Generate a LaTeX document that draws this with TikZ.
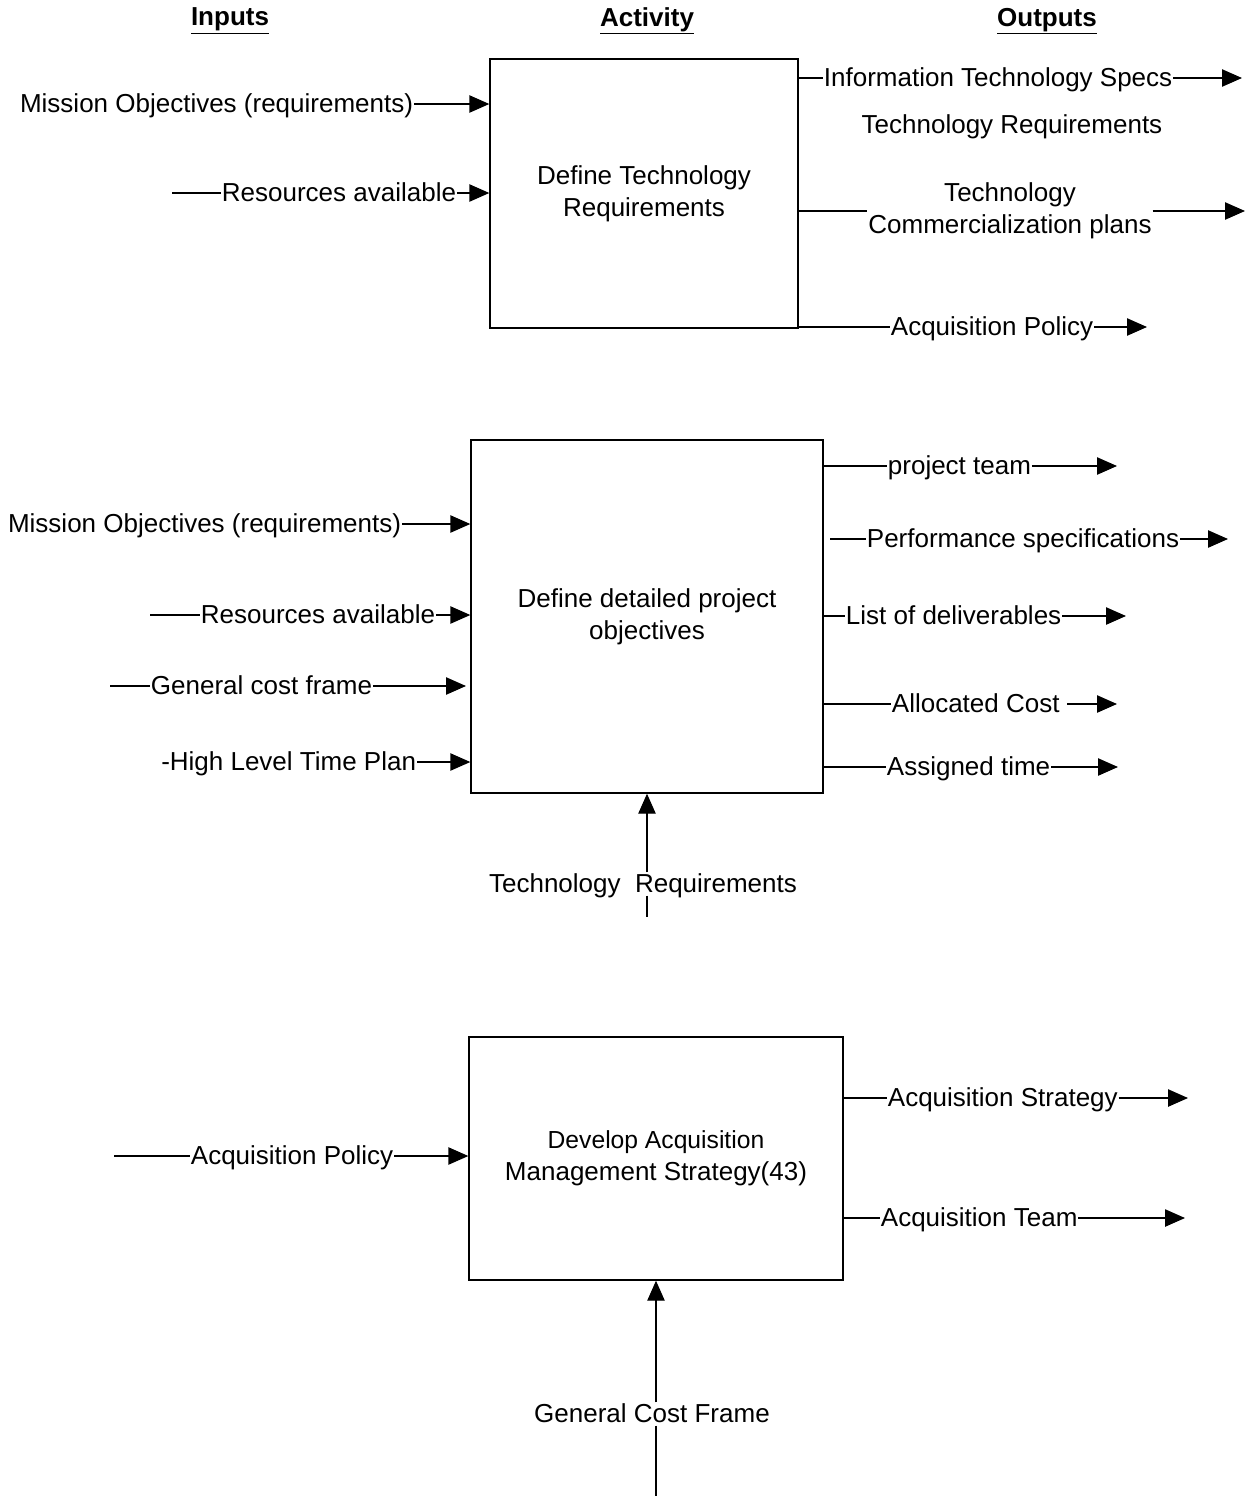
\documentclass[tikz,border=0pt]{standalone}
\usepackage{fontspec}
\setmainfont{Liberation Sans}
\usepackage{tikz}
\usetikzlibrary{arrows.meta,positioning}

\tikzset{
  lbl/.style={inner sep=0.5pt, font=\fontsize{19.5}{24}\selectfont, text height=14pt, text depth=2pt},
  lbltwo/.style={inner sep=0.5pt, align=center, font=\fontsize{19.5}{24}\selectfont},
  hdr/.style={inner sep=0pt, font=\fontsize{19.5}{24}\selectfont\bfseries},
  act/.style={draw, line width=1pt, inner sep=0pt, align=center, font=\fontsize{19.5}{24}\selectfont},
  plain/.style={line width=1pt},
  flow/.style={line width=1pt, -{Triangle[length=15pt,width=13pt]}}
}

\begin{document}
\begin{tikzpicture}[x=0.75pt,y=0.75pt,yscale=-1,xscale=1]
        \useasboundingbox (0,0) rectangle (1250,1496);

        % Headers
        \node [hdr] (hin) at (230,21) {\underline{Inputs}};
        \node [hdr] (hact) at (647,21) {\underline{Activity}};
        \node [hdr] (hout) at (1047,21) {\underline{Outputs}};

        %%%%% Activity 1
        \node [act, minimum width=231pt, minimum height=201.75pt] (box1) at (644,193.5) {Define Technology\\Requirements};

        % Text Node
        \node [lbl, anchor=east] (mo1) at (414,104) {Mission Objectives (requirements)};
        \node [lbl, anchor=west] (ra1) at (221,193) {Resources available};
        \coordinate (ra1s) at (172,193);
        % Text Node
        \node [lbl, anchor=west] (its) at (823,78) {Information Technology Specs};
        \coordinate (itse) at (1242,78);
        \node [lbl] (treq1) at (1012,125) {Technology Requirements};
        \node [lbltwo] (tcp) at (1010,211) {Technology\\Commercialization plans};
        \coordinate (tcpe) at (1245,211);
        \node [lbl, anchor=west] (ap1) at (890,327) {Acquisition Policy};
        \coordinate (ap1e) at (1147,327);

        %Straight Lines
        \draw [flow] (mo1.east) -- (box1.west |- mo1.east);
        \draw [plain] (ra1s) -- (ra1.west);
        \draw [flow] (ra1.east) -- (box1.west |- ra1.east);
        \draw [plain] (box1.east |- its.west) -- (its.west);
        \draw [flow] (its.east) -- (itse);
        \draw [plain] (box1.east |- tcp.west) -- (tcp.west);
        \draw [flow] (tcp.east) -- (tcpe);
        \draw [plain] (box1.east |- ap1.west) -- (ap1.west);
        \draw [flow] (ap1.east) -- (ap1e);

        %%%%% Activity 2
        \node [act, minimum width=264pt, minimum height=264.75pt] (box2) at (647,616.5) {Define detailed project\\objectives};

        % Text Node
        \node [lbl, anchor=east] (mo2) at (402,524) {Mission Objectives (requirements)};
        \node [lbl, anchor=west] (ra2) at (200,615) {Resources available};
        \coordinate (ra2s) at (150,615);
        \node [lbl, anchor=west] (gcf) at (150,686) {General cost frame};
        \coordinate (gcfs) at (110,686);
        \coordinate (gcfe) at (466,686);
        \node [lbl, anchor=east] (hltp) at (417,762) {-High Level Time Plan};
        \node [lbl] (treq2) at (643,884) {Technology\ \ Requirements};
        \coordinate (treq2s) at (647,917);
        % Text Node
        \node [lbl, anchor=west] (pt) at (887,466) {project team};
        \coordinate (pte) at (1117,466);
        \node [lbl, anchor=west] (ps) at (866,539) {Performance specifications};
        \coordinate (pss) at (830,539);
        \coordinate (pse) at (1228,539);
        \node [lbl, anchor=west] (lod) at (845,616) {List of deliverables};
        \coordinate (lode) at (1126,616);
        \node [lbl, anchor=west] (ac) at (891,704) {Allocated Cost};
        \coordinate (ace) at (1117,704);
        \node [lbl, anchor=west] (at) at (886,767) {Assigned time};
        \coordinate (ate) at (1118,767);

        %Straight Lines
        \draw [flow] (mo2.east) -- (box2.west |- mo2.east);
        \draw [plain] (ra2s) -- (ra2.west);
        \draw [flow] (ra2.east) -- (box2.west |- ra2.east);
        \draw [plain] (gcfs) -- (gcf.west);
        \draw [flow] (gcf.east) -- (gcfe);
        \draw [flow] (hltp.east) -- (box2.west |- hltp.east);
        \draw [flow] (treq2.north -| box2.south) -- (box2.south);
        \draw [plain] (treq2.south -| box2.south) -- (treq2s);
        \draw [plain] (box2.east |- pt.west) -- (pt.west);
        \draw [flow] (pt.east) -- (pte);
        \draw [plain] (pss) -- (ps.west);
        \draw [flow] (ps.east) -- (pse);
        \draw [plain] (box2.east |- lod.west) -- (lod.west);
        \draw [flow] (lod.east) -- (lode);
        \draw [plain] (box2.east |- ac.west) -- (ac.west);
        \draw [flow] ([xshift=5pt]ac.east) -- (ace);
        \draw [plain] (box2.east |- at.west) -- (at.west);
        \draw [flow] (at.east) -- (ate);

        %%%%% Activity 3
        \node [act, minimum width=280.5pt, minimum height=182.25pt] (box3) at (656,1158.5) {{\fontsize{18.5}{24}\selectfont Develop Acquisition}\\Management Strategy(43)};

        % Text Node
        \node [lbl, anchor=west] (apol) at (190,1156) {Acquisition Policy};
        \coordinate (apols) at (114,1156);
        \node [lbl, anchor=west] (as) at (887,1098) {Acquisition Strategy};
        \coordinate (ase) at (1188,1098);
        \node [lbl, anchor=west] (atm) at (880,1218) {Acquisition Team};
        \coordinate (atme) at (1185,1218);
        \node [lbl] (gcf3) at (652,1414) {General Cost Frame};
        \coordinate (gcf3s) at (656,1496);

        %Straight Lines
        \draw [plain] (apols) -- (apol.west);
        \draw [flow] (apol.east) -- (box3.west |- apol.east);
        \draw [plain] (box3.east |- as.west) -- (as.west);
        \draw [flow] (as.east) -- (ase);
        \draw [plain] (box3.east |- atm.west) -- (atm.west);
        \draw [flow] (atm.east) -- (atme);
        \draw [flow] (gcf3.north -| box3.south) -- (box3.south);
        \draw [plain] (gcf3.south -| box3.south) -- (gcf3s);

\end{tikzpicture}
\end{document}
